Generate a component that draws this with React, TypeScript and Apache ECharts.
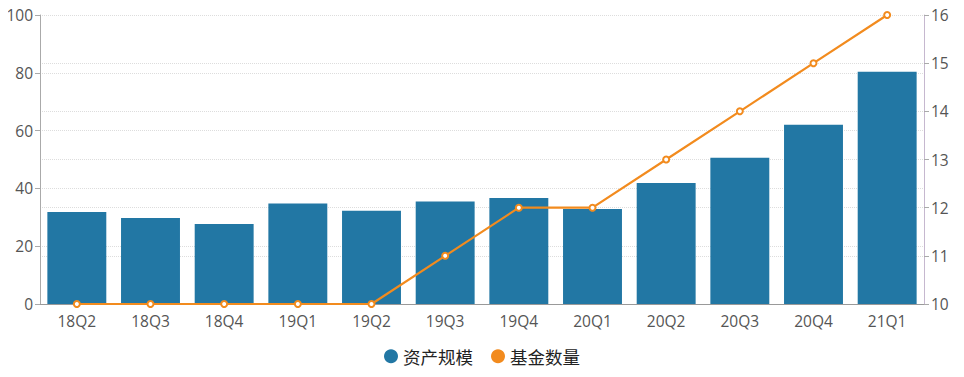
import React, { useEffect, useRef } from "react";
import * as echarts from "echarts";

const categories = ["18Q2", "18Q3", "18Q4", "19Q1", "19Q2", "19Q3", "19Q4", "20Q1", "20Q2", "20Q3", "20Q4", "21Q1"];
const assetScale = [31.8, 29.8, 27.7, 34.8, 32.3, 35.5, 36.7, 32.9, 41.9, 50.6, 62.0, 80.4];
const fundCount = [10, 10, 10, 10, 10, 11, 12, 12, 13, 14, 15, 16];
const seriesNames = ["资产规模", "基金数量"];

export default function App() {
  const ref = useRef<HTMLDivElement>(null);
  useEffect(() => {
    if (!ref.current) return;
    const chart = echarts.init(ref.current, null, { renderer: "svg" });
    const font = "'Open Sans', 'Noto Sans CJK SC', sans-serif";
    chart.setOption({
      animation: false,
      textStyle: { fontFamily: font },
      grid: { left: 40, right: 40, top: 15, bottom: 73 },
      legend: {
        bottom: 7,
        left: "center",
        icon: "circle",
        itemWidth: 14,
        itemHeight: 14,
        itemGap: 18,
        textStyle: { fontSize: 17.5, color: "#222", fontFamily: "'Noto Sans CJK SC', sans-serif" },
        data: seriesNames,
      },
      xAxis: {
        type: "category",
        data: categories,
        axisLine: { lineStyle: { color: "#999" } },
        axisTick: { lineStyle: { color: "#999" } },
        axisLabel: { color: "#555", fontSize: 15.5, margin: 9 },
      },
      yAxis: [
        {
          type: "value",
          min: 0,
          max: 100,
          interval: 20,
          axisLine: { show: true, lineStyle: { color: "#aaa" } },
          axisTick: { show: true, lineStyle: { color: "#aaa" } },
          axisLabel: { color: "#555", fontSize: 15.5, margin: 7 },
          splitLine: { lineStyle: { color: "#ddd", type: "dotted" } },
        },
        {
          type: "value",
          min: 10,
          max: 16,
          interval: 1,
          axisLine: { show: true, lineStyle: { color: "#c6b8cf" } },
          axisTick: { show: true, lineStyle: { color: "#aaa" } },
          axisLabel: { color: "#555", fontSize: 15.5, margin: 7 },
          splitLine: { lineStyle: { color: "#ddd", type: "dotted" } },
        },
      ],
      series: [
        {
          name: seriesNames[0],
          type: "bar",
          data: assetScale,
          barCategoryGap: "20%",
          itemStyle: { color: "#2277a4" },
        },
        {
          name: seriesNames[1],
          type: "line",
          yAxisIndex: 1,
          data: fundCount,
          symbol: "emptyCircle",
          symbolSize: 6,
          lineStyle: { color: "#f28b1e", width: 2.2 },
          itemStyle: { color: "#f28b1e" },
        },
      ],
    });
    return () => chart.dispose();
  }, []);
  return <div ref={ref} style={{ width: 964, height: 377, margin: -8 }} />;
}
